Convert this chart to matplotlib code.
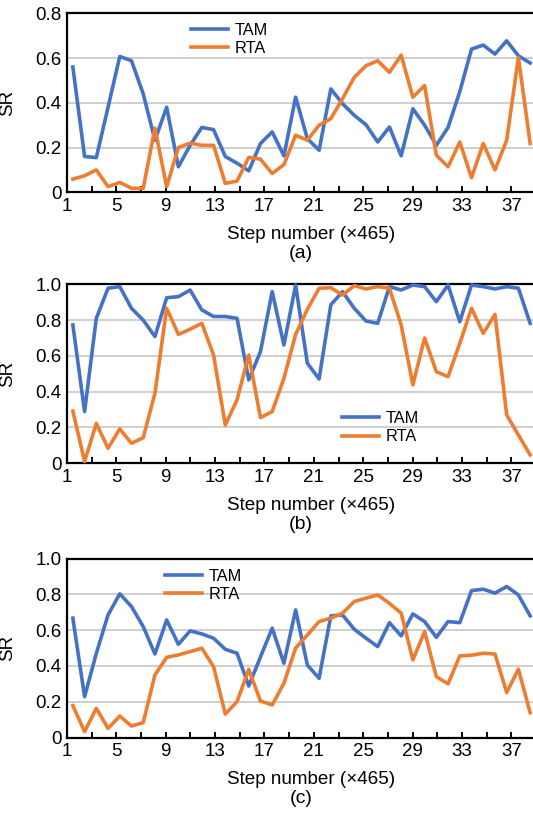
#!/usr/bin/env python3
"""SR of TAM vs RTA over training steps, three stacked panels."""

import matplotlib
matplotlib.use('Agg')
import matplotlib.pyplot as plt
import numpy as np

plt.rcParams['font.family'] = ['Liberation Sans', 'DejaVu Sans']

BLUE = '#4472C4'
ORANGE = '#ED7D31'

# data points (one per step index 1..40)
steps = np.arange(1, 41)

tam_a = [0.56, 0.16, 0.155, 0.38, 0.607, 0.588, 0.44, 0.233, 0.38, 0.114,
         0.21, 0.29, 0.28, 0.16, 0.13, 0.096, 0.218, 0.27, 0.163, 0.425,
         0.24, 0.188, 0.462, 0.396, 0.344, 0.302, 0.225, 0.292, 0.163, 0.373,
         0.30, 0.21, 0.29, 0.45, 0.64, 0.658, 0.618, 0.677, 0.61, 0.578]
rta_a = [0.059, 0.074, 0.10, 0.025, 0.044, 0.018, 0.018, 0.287, 0.025, 0.20,
         0.22, 0.21, 0.21, 0.04, 0.05, 0.156, 0.148, 0.084, 0.124, 0.255,
         0.233, 0.30, 0.329, 0.418, 0.514, 0.566, 0.588, 0.536, 0.613, 0.425,
         0.477, 0.166, 0.114, 0.225, 0.065, 0.218, 0.10, 0.233, 0.603, 0.218]

tam_b = [0.773, 0.289, 0.81, 0.978, 0.987, 0.866, 0.80, 0.708, 0.925, 0.931,
         0.968, 0.857, 0.82, 0.82, 0.81, 0.466, 0.624, 0.959, 0.661, 0.996,
         0.559, 0.471, 0.885, 0.959, 0.866, 0.795, 0.782, 0.987, 0.968, 0.996,
         0.987, 0.903, 0.996, 0.791, 0.996, 0.987, 0.974, 0.987, 0.978, 0.782]
rta_b = [0.292, 0.01, 0.223, 0.084, 0.192, 0.112, 0.143, 0.391, 0.866, 0.72,
         0.749, 0.782, 0.605, 0.214, 0.354, 0.605, 0.255, 0.289, 0.475, 0.72,
         0.86, 0.978, 0.981, 0.94, 0.993, 0.974, 0.987, 0.978, 0.773, 0.438,
         0.70, 0.512, 0.484, 0.67, 0.866, 0.726, 0.832, 0.27, 0.158, 0.047]

tam_c = [0.667, 0.228, 0.47, 0.685, 0.803, 0.732, 0.62, 0.467, 0.657, 0.521,
         0.596, 0.579, 0.555, 0.493, 0.471, 0.288, 0.45, 0.611, 0.415, 0.713,
         0.405, 0.331, 0.68, 0.685, 0.605, 0.555, 0.508, 0.642, 0.568, 0.691,
         0.648, 0.56, 0.648, 0.642, 0.821, 0.829, 0.807, 0.844, 0.797, 0.68]
rta_c = [0.178, 0.033, 0.163, 0.051, 0.12, 0.064, 0.083, 0.35, 0.448, 0.462,
         0.48, 0.499, 0.396, 0.131, 0.20, 0.381, 0.204, 0.182, 0.303, 0.50,
         0.573, 0.648, 0.667, 0.695, 0.76, 0.779, 0.797, 0.75, 0.695, 0.434,
         0.592, 0.34, 0.30, 0.456, 0.46, 0.471, 0.467, 0.251, 0.382, 0.139]

xtick_pos = list(range(1, 39, 2))
xtick_labels = [str(v) if (v - 1) % 4 == 0 else '' for v in xtick_pos]

W, H = 533, 814

# (top px, bottom px, ymax, legend handle-left px, legend centre px, caption)
PANELS = [
    (13.3, 192.3, 0.8, 191, 39.3, '(a)', tam_a, rta_a),
    (284.3, 463.3, 1.0, 342, 427.8, '(b)', tam_b, rta_b),
    (558.6, 737.5, 1.0, 165, 585.5, '(c)', tam_c, rta_c),
]

fig = plt.figure(figsize=(W / 100, H / 100), dpi=100)

for top, bottom, ymax, lx, ly, cap, tam, rta in PANELS:
    left, right = 67, 536
    ax = fig.add_axes([left / W, 1 - bottom / H, (right - left) / W, (bottom - top) / H])
    ax.set_xlim(1, 39)
    ax.set_ylim(0, ymax)
    yt = np.arange(0, ymax + 0.01, 0.2)
    ax.set_yticks(yt)
    ax.set_yticklabels(['0'] + ['%.1f' % v for v in yt[1:]])
    ax.set_xticks(xtick_pos)
    ax.set_xticklabels(xtick_labels)
    ax.tick_params(axis='x', direction='in', length=4, width=1.4, labelsize=13.5, pad=4)
    ax.tick_params(axis='y', length=0, labelsize=13.5, pad=4)
    ax.grid(True, axis='y', color='#CFCFCF', linewidth=1.4)
    ax.set_axisbelow(True)
    for s in ['left', 'bottom', 'top']:
        ax.spines[s].set_linewidth(1.6)
    ax.spines['right'].set_visible(False)
    ax.set_ylabel('SR', fontsize=13.5)
    ax.yaxis.set_label_coords((16 - left) / (right - left), 0.5)
    ax.set_xlabel('Step number (×465)', fontsize=13.6)
    ax.xaxis.set_label_coords((311 - left) / (right - left), -34 / (bottom - top))

    # data drawn on a twin axis with its own category scale
    axd = ax.twiny()
    axd.set_xlim(0.5, 40.5)
    axd.set_ylim(0, ymax)
    axd.axis('off')
    axd.plot(steps, tam, color=BLUE, linewidth=2.6, label='TAM', clip_on=False)
    axd.plot(steps, rta, color=ORANGE, linewidth=2.6, label='RTA', clip_on=False)
    axd.legend(loc='center left', bbox_to_anchor=(lx / W, 1 - ly / H),
               bbox_transform=fig.transFigure, frameon=False, fontsize=11.7,
               handlelength=2.3, handletextpad=0.4, labelspacing=0.2,
               borderpad=0, borderaxespad=0)

    fig.text(301 / W, 1 - (bottom + 61) / H, cap, ha='center', va='center', fontsize=14)

plt.savefig('out.png', dpi=100)
plt.close()
print('Saved: out.png')
